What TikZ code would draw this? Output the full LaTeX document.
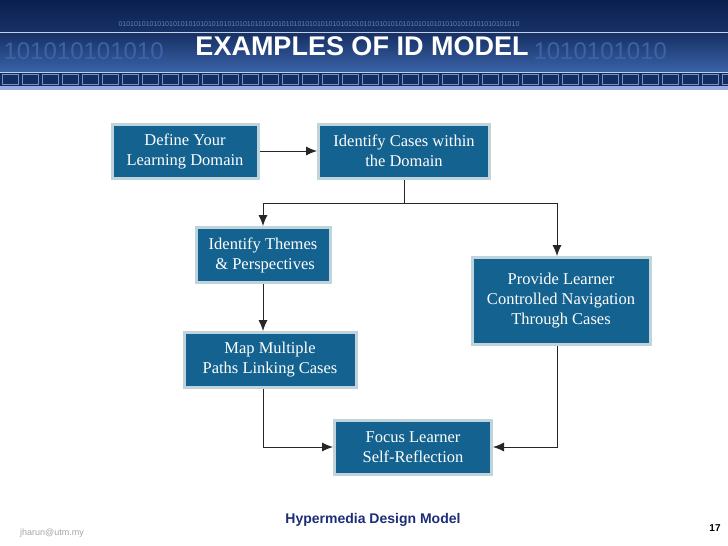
\documentclass[tikz,border=0pt]{standalone}
\usepackage{fontspec}
\setmainfont{Liberation Serif}
\newfontfamily\headfont{Liberation Sans}
\usetikzlibrary{arrows.meta}
\definecolor{boxblue}{HTML}{14628F}
\definecolor{boxrim}{HTML}{BFD3DB}
\definecolor{bannerdark}{HTML}{0B1F4E}
\definecolor{bannerlight}{HTML}{3A63A8}
\definecolor{captionblue}{HTML}{1C2E78}

\tikzset{
  stepbox/.style={draw=boxrim, line width=3pt, fill=boxblue, text=white,
    align=center, font=\fontsize{16.5}{20}\selectfont, inner sep=0pt},
  link/.style={draw=black!85, line width=0.8pt},
  arrowlink/.style={link, -{Latex[length=11pt,width=9pt]}}
}

\begin{document}
\begin{tikzpicture}[x=1pt,y=-1pt]
\useasboundingbox (0,0) rectangle (728,546);
\fill[white] (0,0) rectangle (728,546);
% banner
\shade[top color=bannerdark, bottom color=bannerlight, middle color=bannerdark!70!bannerlight] (0,0) rectangle (728,72);
\fill[bannerdark!80!bannerlight] (0,72) rectangle (728,86);
\foreach \i in {0,...,36} {
  \draw[bannerlight!70!white, line width=0.4pt] (\i*20+2,74) rectangle (\i*20+18,84);
}
\draw[white!70!bannerlight, line width=0.6pt] (0,32) -- (728,32);
\draw[white!70!bannerlight, line width=0.6pt] (0,72) -- (728,72);
\fill[boxrim!80!blue] (0,86) rectangle (728,90);
\node[text=bannerlight!80!white, font=\headfont\fontsize{7}{7}\selectfont, anchor=west] at (115,24) {0101010101010101010101010101010101010101010101010101010101010101010101010101010101010101010101010101010};
\node[text=bannerlight, font=\headfont\fontsize{24}{24}\selectfont, anchor=west] at (0,51) {101010101010};
\node[text=bannerlight, font=\headfont\fontsize{24}{24}\selectfont, anchor=west] at (530,51) {1010101010};
\node (title) [text=white, font=\headfont\bfseries\fontsize{27}{27}\selectfont] at (362,46) {EXAMPLES OF ID MODEL};

% boxes
\node (define)  [stepbox, minimum width=146pt, minimum height=54pt] at (185,151) {Define Your\\Learning Domain};
\node (cases)   [stepbox, minimum width=171pt, minimum height=54pt] at (404,151) {Identify Cases within\\the Domain};
\node (themes)  [stepbox, minimum width=134pt, minimum height=55pt] at (263,255) {Identify Themes\\\ \& Perspectives};
\node (provide) [stepbox, minimum width=178pt, minimum height=87pt] at (561,301) {Provide Learner\\Controlled Navigation\\Through Cases};
\node (paths)   [stepbox, minimum width=172pt, minimum height=55pt] at (270,360) {Map Multiple\\Paths Linking Cases};
\node (focus)   [stepbox, minimum width=157pt, minimum height=54pt] at (413,447) {Focus Learner\\Self-Reflection};

% connectors
\coordinate (split) at (404,203);
\draw[arrowlink] (define) -- (cases);
\draw[link] (cases) -- (split);
\draw[arrowlink] (split) -| (themes);
\draw[arrowlink] (split) -| (provide.north -| 557,0);
\draw[arrowlink] (themes) -- (themes |- paths.north);
\draw[arrowlink] (paths.south -| themes) |- (focus);
\draw[arrowlink] (provide.south -| 557,0) |- (focus);

% footer
\node (caption) [text=captionblue, font=\headfont\bfseries\fontsize{14}{14}\selectfont] at (373,520) {Hypermedia Design Model};
\node (mail) [text=black!35, font=\headfont\fontsize{9}{9}\selectfont] at (52,533) {jharun@utm.my};
\node (page) [text=black, font=\headfont\bfseries\fontsize{10}{10}\selectfont] at (715,528) {17};
\end{tikzpicture}
\end{document}
